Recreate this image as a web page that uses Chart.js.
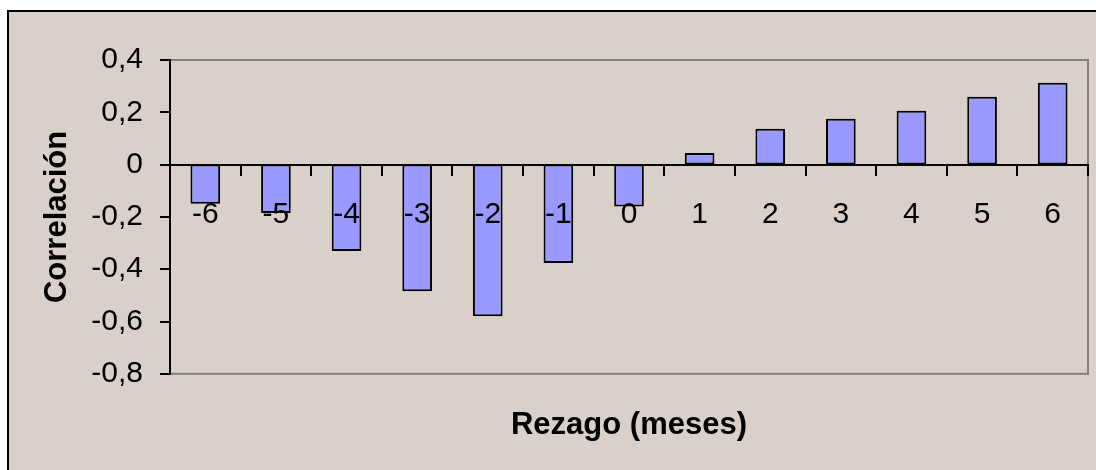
<!DOCTYPE html>
<html>
<head>
<meta charset="utf-8">
<script src="https://cdn.jsdelivr.net/npm/chart.js@4"></script>
<style>
    body { margin: 0; background: #ffffff; }
    #frame {
        position: absolute;
        left: 7px;
        top: 10px;
        border-left: 2px solid #000;
        border-top: 2px solid #000;
        background: #d9d0ca;
    }
    #corrChart { display: block; }
</style>
</head>
<body>
<div id="frame">
    <canvas id="corrChart" width="1087" height="458"></canvas>
</div>
<script>
const lags = ['-6', '-5', '-4', '-3', '-2', '-1', '0', '1', '2', '3', '4', '5', '6'];
const correlations = [-0.15, -0.185, -0.33, -0.484, -0.58, -0.376, -0.16, 0.044, 0.137, 0.175, 0.206, 0.259, 0.313];
const yMin = -0.8;
const yMax = 0.4;
const yStep = 0.2;

const fontFamily = '"Liberation Sans", Arial, sans-serif';

// gray frame round the plot area, drawn before the axes so the black y axis sits on top
const plotFrame = {
    id: 'plotFrame',
    beforeDraw(chart) {
        const { ctx, chartArea } = chart;
        ctx.save();
        ctx.strokeStyle = '#808080';
        ctx.lineWidth = 2;
        ctx.strokeRect(chartArea.left, chartArea.top, chartArea.right - chartArea.left, chartArea.bottom - chartArea.top);
        ctx.restore();
    }
};

function formatTick(value) {
    const v = Math.round(value * 10) / 10;
    if (v === 0) return '0';
    return v.toFixed(1).replace('.', ',');
}

const ctx = document.getElementById('corrChart').getContext('2d');
new Chart(ctx, {
    type: 'bar',
    data: {
        labels: lags,
        datasets: [{
            data: correlations,
            backgroundColor: '#9999ff',
            borderColor: '#000000',
            borderWidth: 2,
            borderSkipped: false,
            categoryPercentage: 1,
            barPercentage: 0.42
        }]
    },
    options: {
        responsive: false,
        animation: false,
        layout: { padding: { top: 48, right: 8, left: 0, bottom: 0 } },
        plugins: {
            legend: { display: false },
            tooltip: { enabled: false },
            title: {
                display: true,
                text: 'Rezago (meses)',
                position: 'bottom',
                fullSize: false,
                color: '#000',
                font: { family: fontFamily, size: 31, weight: 'bold' },
                padding: { top: 33, bottom: 26 }
            }
        },
        scales: {
            x: {
                type: 'category',
                position: { y: 0 },
                grid: {
                    offset: true,
                    drawOnChartArea: false,
                    drawTicks: true,
                    tickLength: 10,
                    color: '#000',
                    lineWidth: 2,
                    z: 1
                },
                border: { display: true, color: '#000', width: 2, z: 1 },
                ticks: {
                    z: 1,
                    color: '#000',
                    font: { family: fontFamily, size: 30 },
                    padding: 22,
                    maxRotation: 0,
                    autoSkip: false
                }
            },
            y: {
                min: yMin,
                max: yMax,
                afterFit(scale) { scale.width = 161; },
                grid: {
                    drawOnChartArea: false,
                    drawTicks: true,
                    tickLength: 10,
                    color: '#000',
                    lineWidth: 2
                },
                border: { display: true, color: '#000', width: 2 },
                ticks: {
                    stepSize: yStep,
                    color: '#000',
                    font: { family: fontFamily, size: 30 },
                    padding: 17,
                    callback: (value) => formatTick(value)
                },
                title: {
                    display: true,
                    text: 'Correlación',
                    color: '#000',
                    font: { family: fontFamily, size: 31, weight: 'bold' },
                    padding: { top: 30, bottom: 0 }
                }
            }
        }
    },
    plugins: [plotFrame]
});
</script>
</body>
</html>
